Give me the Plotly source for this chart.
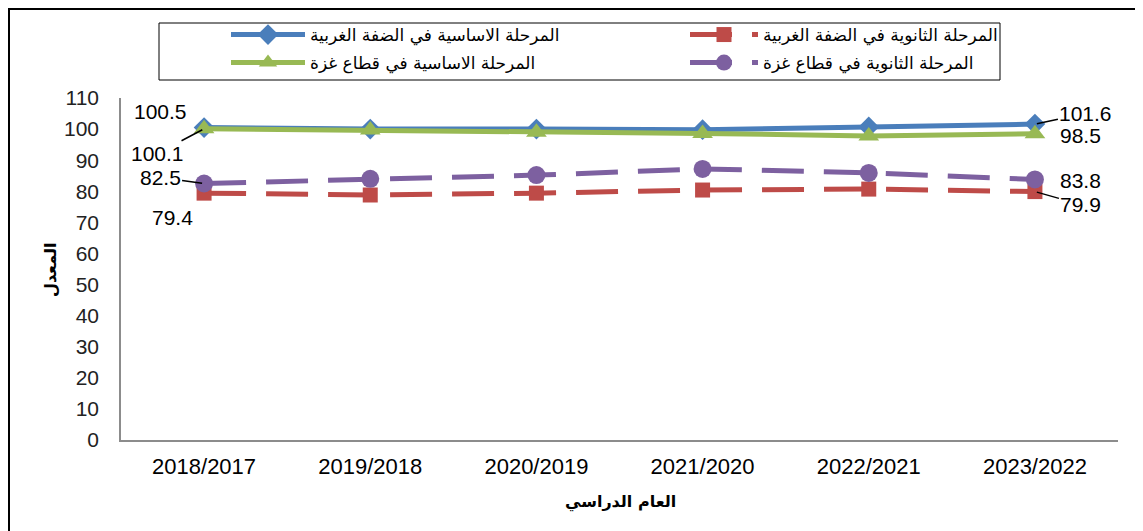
import plotly.graph_objects as go

years = ["2018/2017", "2019/2018", "2020/2019", "2021/2020", "2022/2021", "2023/2022"]
wb_basic = [100.5, 100.0, 100.0, 99.8, 100.7, 101.6]
wb_secondary = [79.4, 78.8, 79.4, 80.4, 80.7, 79.9]
gz_basic = [100.1, 99.7, 99.0, 98.6, 97.8, 98.5]
gz_secondary = [82.5, 84.0, 85.2, 87.2, 85.9, 83.8]

names = ["المرحلة الاساسية في الضفة الغربية", "المرحلة الثانوية في الضفة الغربية",
         "المرحلة الاساسية في قطاع غزة", "المرحلة الثانوية في قطاع غزة"]
y_title = "المعدل"
x_title = "العام الدراسي"

FONT = "Liberation Sans, Arial, sans-serif"
AFONT = "DejaVu Sans, sans-serif"

# page body has an 8px margin: work in screen coords and convert
OFF = 8
W, H = 1143 - OFF, 531 - OFF
L, R, T, B = 121 - OFF, 25, 98 - OFF, 91
pw, ph = W - L - R, H - T - B


def px(xs):
    return (xs - OFF - L) / pw


def py(ys):
    return (H - B - (ys - OFF)) / ph


fig = go.Figure()
fig.add_trace(go.Scatter(x=years, y=wb_basic, name=names[0], mode="lines+markers",
                         line=dict(color="#4A7EBB", width=5),
                         marker=dict(symbol="diamond", size=16, color="#4A7EBB"),
                         legend="legend"))
fig.add_trace(go.Scatter(x=years, y=gz_basic, name=names[2], mode="lines+markers",
                         line=dict(color="#98B954", width=5),
                         marker=dict(symbol="triangle-up", size=18, color="#98B954"),
                         legend="legend3"))
fig.add_trace(go.Scatter(x=years, y=wb_secondary, name=names[1], mode="lines+markers",
                         line=dict(color="#BE4B48", width=5, dash="42px,20px"),
                         marker=dict(symbol="square", size=15, color="#BE4B48"),
                         legend="legend2"))
fig.add_trace(go.Scatter(x=years, y=gz_secondary, name=names[3], mode="lines+markers",
                         line=dict(color="#7D60A0", width=5, dash="42px,20px"),
                         marker=dict(symbol="circle", size=18, color="#7D60A0"),
                         legend="legend4"))

ann = []


def lab(x, y, text, dx, dy, arrow):
    f = dict(size=21, color="black", family=FONT)
    if arrow:
        ann.append(dict(x=x, y=y, text=text, showarrow=True, arrowhead=0, arrowwidth=1.5,
                        arrowcolor="black", ax=dx, ay=dy, standoff=2, font=f))
    else:
        ann.append(dict(x=x, y=y, text=text, showarrow=False, xshift=dx, yshift=-dy, font=f))


lab(years[0], wb_basic[0], f"{wb_basic[0]}", -44, -16, False)
lab(years[0], gz_basic[0], f"{gz_basic[0]}", -47, 25, True)
lab(years[0], gz_secondary[0], f"{gz_secondary[0]}", -44, -6, True)
lab(years[0], wb_secondary[0], f"{wb_secondary[0]}", -32, 24, False)
lab(years[-1], wb_basic[-1], f"{wb_basic[-1]}", 51, -11, True)
lab(years[-1], gz_basic[-1], f"{gz_basic[-1]}", 46, 2, False)
lab(years[-1], gz_secondary[-1], f"{gz_secondary[-1]}", 46, 1, False)
lab(years[-1], wb_secondary[-1], f"{wb_secondary[-1]}", 46, 13, True)

ann.append(dict(xref="paper", yref="paper", x=px(50), y=py(270), text=f"<b>{y_title}</b>",
                xanchor="center", yanchor="middle",
                textangle=-90, showarrow=False, font=dict(size=16, color="black", family=AFONT)))
ann.append(dict(xref="paper", yref="paper", x=px(620), y=py(502), text=f"<b>{x_title}</b>",
                xanchor="center", yanchor="middle",
                showarrow=False, font=dict(size=16, color="black", family=AFONT)))

shapes = [
    dict(type="rect", xref="paper", yref="paper", x0=px(9), x1=px(1140), y0=py(600), y1=py(9),
         line=dict(color="black", width=2), fillcolor="rgba(0,0,0,0)", layer="below"),
    dict(type="rect", xref="paper", yref="paper", x0=px(159), x1=px(1000), y0=py(80), y1=py(23),
         line=dict(color="black", width=1), fillcolor="rgba(0,0,0,0)", layer="below"),
]


def leg(xs, ys, iw):
    return dict(x=px(xs), y=py(ys), xanchor="left", yanchor="middle", orientation="v",
                font=dict(size=17, family=AFONT, color="black"), itemwidth=iw,
                bgcolor="rgba(0,0,0,0)", borderwidth=0)


fig.update_layout(
    width=W, height=H, margin=dict(l=L, r=R, t=T, b=B, autoexpand=False),
    paper_bgcolor="white", plot_bgcolor="white",
    font=dict(family=FONT, color="black"),
    showlegend=True,
    legend=leg(226, 35, 74),
    legend3=leg(226, 63, 74),
    legend2=leg(685, 35, 68),
    legend4=leg(685, 63, 68),
    xaxis=dict(type="category", range=[-0.5, len(years) - 0.5], showline=True,
               linecolor="#8C8C8C", linewidth=1.5,
               showgrid=False, ticks="", tickfont=dict(size=22, color="black", family=FONT),
               ticklabelstandoff=6, fixedrange=True, automargin=False),
    yaxis=dict(range=[0, 110], dtick=10, showline=True, linecolor="#8C8C8C", linewidth=1.5,
               showgrid=False, zeroline=False, ticks="", automargin=False,
               tickfont=dict(size=21, color="#222222", family=FONT), ticklabelstandoff=16),
    annotations=ann, shapes=shapes,
)

fig.write_html("out.html")
